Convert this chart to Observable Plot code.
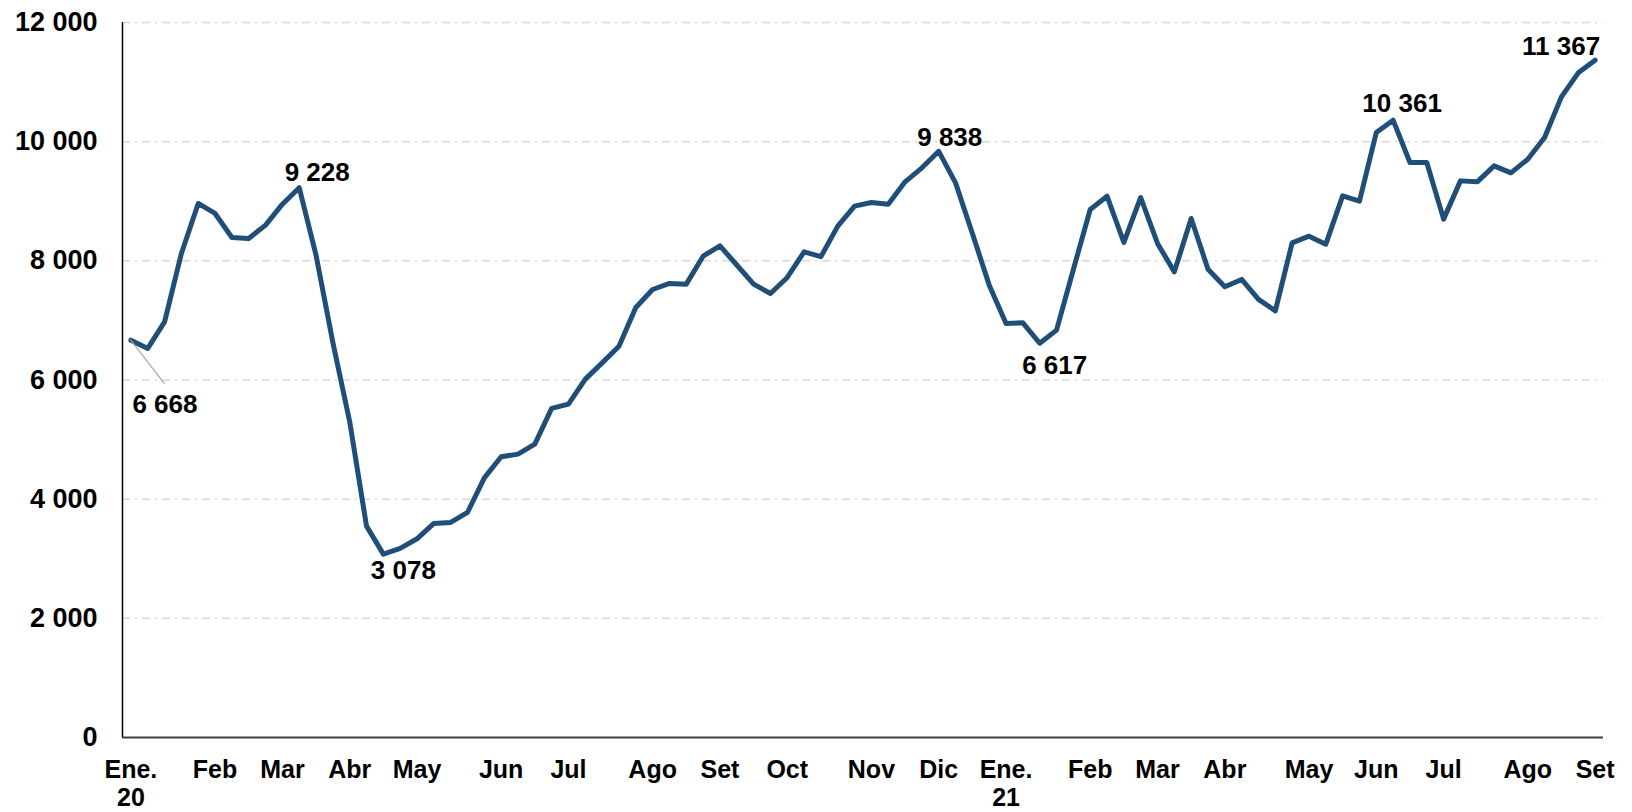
<!DOCTYPE html>
<html>
<head>
<meta charset="utf-8">
<script src="https://cdn.jsdelivr.net/npm/d3@7"></script>
<script src="https://cdn.jsdelivr.net/npm/@observablehq/plot@0.6"></script>
<style>
  html, body { margin: 0; padding: 0; background: #ffffff; }
  #chart { width: 1632px; height: 812px; }
</style>
</head>
<body>
<div id="chart"></div>
<script>
// Weekly values, Jan 2020 – Sep 2021 (88 weeks)
const values = [6668, 6530, 6976, 8124, 8963, 8795, 8392, 8376, 8599, 8951,
  9228, 8095, 6630, 5300, 3548, 3078, 3173, 3335, 3593, 3610,
  3778, 4358, 4711, 4756, 4924, 5523, 5595, 6015, 6288, 6568,
  7217, 7519, 7620, 7609, 8078, 8252, 7930, 7609, 7452, 7721,
  8151, 8070, 8582, 8918, 8980, 8951, 9326, 9561, 9838, 9309,
  8459, 7592, 6949, 6960, 6617, 6837, 7855, 8862, 9085, 8308,
  9063, 8292, 7815, 8711, 7860, 7564, 7688, 7352, 7161, 8302,
  8414, 8280, 9091, 9002, 10154, 10361, 9651, 9651, 8700, 9342,
  9326, 9594, 9477, 9706, 10070, 10752, 11155, 11367];

// x-axis month ticks (week index) and labels
const tickIdx = [0, 5, 9, 13, 17, 22, 26, 31, 35, 39, 44, 48, 52, 57, 61, 65, 70, 74, 78, 83, 87];
const tickLabels = ["Ene.\n20", "Feb", "Mar", "Abr", "May", "Jun", "Jul", "Ago", "Set", "Oct", "Nov", "Dic",
  "Ene.\n21", "Feb", "Mar", "Abr", "May", "Jun", "Jul", "Ago", "Set"];

// y-axis ticks
const yTicks = [0, 2000, 4000, 6000, 8000, 10000, 12000];

// annotated weeks
const labelIdx = [0, 10, 15, 48, 54, 75, 87];

const fmt = v => Math.round(v).toString().replace(/\B(?=(\d{3})+(?!\d))/g, " ");
const data = values.map((v, i) => ({i, v}));

// label offsets (pixels) relative to the annotated point
const offsets = {0: [34, 64], 10: [18, -15], 15: [20, 17], 48: [11, -14], 54: [15, 22], 75: [9, -16], 87: [-34, -14]};

const labelMarks = labelIdx.map(k => Plot.text([data[k]], {
  x: "i", y: "v", text: d => fmt(d.v),
  dx: offsets[k][0], dy: offsets[k][1],
  fontSize: 26, fontWeight: "bold", fill: "#000000"
}));

const plot = Plot.plot({
  width: 1632,
  height: 812,
  marginLeft: 122,
  marginRight: 29,
  marginTop: 22,
  marginBottom: 75,
  style: {fontFamily: "'Liberation Sans', Arial, sans-serif", background: "#ffffff", overflow: "visible"},
  x: {domain: [-0.5, 87.5], axis: null},
  y: {domain: [0, 12000], axis: null},
  marks: [
    Plot.ruleY(yTicks.filter(t => t > 0), {stroke: "#d9d9d9", strokeWidth: 1.5, strokeDasharray: "8,5,2,5"}),
    Plot.ruleY([0], {stroke: "#404040", strokeWidth: 2}),
    Plot.ruleX([-0.5], {y1: 0, y2: 12000, stroke: "#000000", strokeWidth: 1.5}),
    Plot.text(yTicks, {frameAnchor: "left", y: d => d, text: d => fmt(d), textAnchor: "end", dx: -25,
      fontSize: 27, fontWeight: "bold", fill: "#000000"}),
    Plot.text(tickIdx, {x: d => d, frameAnchor: "bottom", text: (d, i) => tickLabels[i],
      lineAnchor: "top", dy: 20, lineHeight: 1.14, fontSize: 25, fontWeight: "bold", fill: "#000000"}),
    Plot.line(data, {x: "i", y: "v", stroke: "#1F4E79", strokeWidth: 5, strokeLinejoin: "round"}),
    ...labelMarks
  ]
});

document.getElementById("chart").appendChild(plot);

// leader line for first label, anchored through the plot's scales
const sx = plot.scale("x"), sy = plot.scale("y");
const px = sx.apply(data[0].i), py = sy.apply(data[0].v);
d3.select(plot).append("line")
  .attr("x1", px).attr("y1", py)
  .attr("x2", px + 34).attr("y2", py + 44)
  .attr("stroke", "#a6a6a6").attr("stroke-width", 1.2);
</script>
</body>
</html>
